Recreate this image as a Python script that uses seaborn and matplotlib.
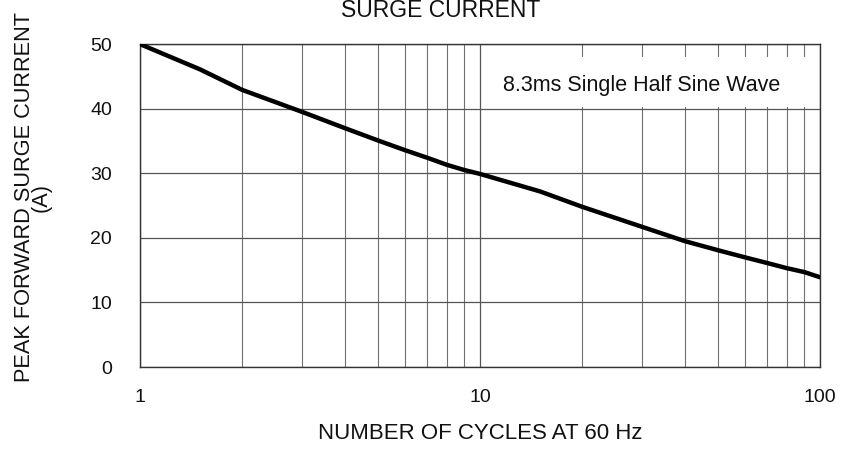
import matplotlib
matplotlib.use('Agg')
import matplotlib.pyplot as plt
import matplotlib.ticker as mticker
from matplotlib.patches import Rectangle
import seaborn as sns
import pandas as pd

# curve
cycles = [1, 1.5, 2, 3, 4, 5, 6, 7, 8, 9, 10, 15, 20, 30, 40, 50, 60, 70, 80, 90, 100]
current = [50.0, 46.1, 42.9, 39.5, 37.0, 35.1, 33.6, 32.4, 31.3, 30.5, 29.9,
           27.2, 24.8, 21.7, 19.5, 18.1, 17.0, 16.1, 15.3, 14.7, 13.9]
x_ticks = [1, 10, 100]
x_tick_labels = ['1', '10', '100']
y_ticks = [0, 10, 20, 30, 40, 50]

df = pd.DataFrame({'cycles': cycles, 'current': current})

sns.set_style('white')
plt.rcParams['font.family'] = ['Liberation Sans', 'DejaVu Sans']

fig = plt.figure(figsize=(8.55, 4.5), dpi=100)
ax = fig.add_axes([0.1637, 0.1844, 0.7953, 0.7176])

ax.set_xscale('log')
ax.set_xlim(1, 100)
ax.set_ylim(0, 50)

# grid: every integer cycle count, plus 10 A steps
ax.xaxis.set_major_locator(mticker.FixedLocator(x_ticks))
ax.xaxis.set_minor_locator(mticker.LogLocator(base=10, subs=range(2, 10)))
ax.xaxis.set_minor_formatter(mticker.NullFormatter())
ax.set_xticks(x_ticks)
ax.set_xticklabels(x_tick_labels)
ax.set_yticks(y_ticks)
ax.grid(True, which='major', axis='both', color='#555555', lw=0.9)
ax.grid(True, which='minor', axis='x', color='#707070', lw=0.8)
ax.tick_params(which='both', length=0, labelsize=14, colors='#111111')
ax.tick_params(axis='y', pad=20)
ax.tick_params(axis='x', pad=16)

for s in ax.spines.values():
    s.set_color('#333333')
    s.set_linewidth(1.0)

sns.lineplot(data=df, x='cycles', y='current', ax=ax, color='black', lw=3.2, zorder=5)

# white label box hiding the grid behind the note
ax.add_patch(Rectangle((0.503, 0.805), 0.49, 0.155, transform=ax.transAxes,
                       facecolor='white', edgecolor='none', zorder=3))
ax.text(0.738, 0.873, '8.3ms Single Half Sine Wave', transform=ax.transAxes,
        ha='center', va='center', fontsize=15.5, color='#111111', zorder=4)

ax.set_xlabel('NUMBER OF CYCLES AT 60 Hz', fontsize=16, color='#111111', labelpad=12)
ax.set_ylabel('PEAK FORWARD SURGE CURRENT\n(A)', fontsize=15.7, color='#111111',
              linespacing=0.7)
ax.yaxis.set_label_coords(-0.130, 0.526)
fig.text(0.515, 0.976, 'SURGE CURRENT', ha='center', va='center', fontsize=16.5,
         color='#111111')

fig.savefig('out.png', dpi=100)
